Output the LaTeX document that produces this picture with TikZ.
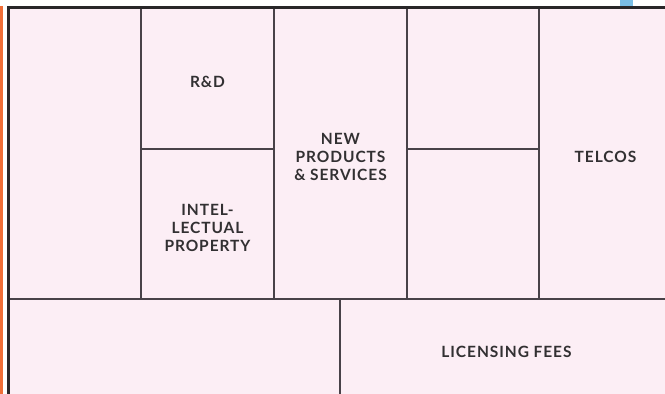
\documentclass[tikz,border=0pt]{standalone}
\usepackage{fontspec}
\setmainfont{Lato}[LetterSpace=6]
\definecolor{canvaspink}{RGB}{252,238,245}
\definecolor{edgeorange}{RGB}{240,110,55}
\definecolor{tabblue}{RGB}{122,190,230}
\definecolor{borderdark}{RGB}{40,38,40}
\definecolor{gridgrey}{RGB}{72,66,72}
\definecolor{labelgrey}{RGB}{50,48,50}
\tikzset{
  cellline/.style={draw=gridgrey,line width=1.2pt},
  celltext/.style={text=labelgrey,font=\fontsize{15.5}{18.3}\selectfont\bfseries,align=center,inner sep=0pt}
}
\begin{document}
\begin{tikzpicture}[x=1pt,y=-1pt]
\useasboundingbox (0,0) rectangle (665,394);
\clip (0,0) rectangle (665,394);
% background and side marks
\fill[canvaspink] (8,8) rectangle (672,445);
\fill[edgeorange] (0,6) rectangle (2.7,394);
\fill[tabblue] (620,0) rectangle (633,6.5);
% grid
\foreach \x in {141,274,407,539}
  \draw[cellline] (\x,8) -- (\x,299);
\draw[cellline] (141,149) -- (274,149);
\draw[cellline] (407,149) -- (539,149);
\draw[cellline] (8,299) -- (672,299);
\draw[cellline] (340,299) -- (340,445);
% outer border
\draw[draw=borderdark,line width=2.5pt] (8.3,394) -- (8.3,7.3) -- (665,7.3);
% labels
\node[celltext] (rnd) at (207.5,81.5) {R\&D};
\node[celltext] (ip) at (207.5,228) {INTEL-\\LECTUAL\\PROPERTY};
\node[celltext] (newps) at (340.5,157) {NEW\\PRODUCTS\\\& SERVICES};
\node[celltext] (telcos) at (605.5,156.5) {TELCOS};
\node[celltext] (fees) at (506.5,352) {LICENSING FEES};
\end{tikzpicture}
\end{document}
